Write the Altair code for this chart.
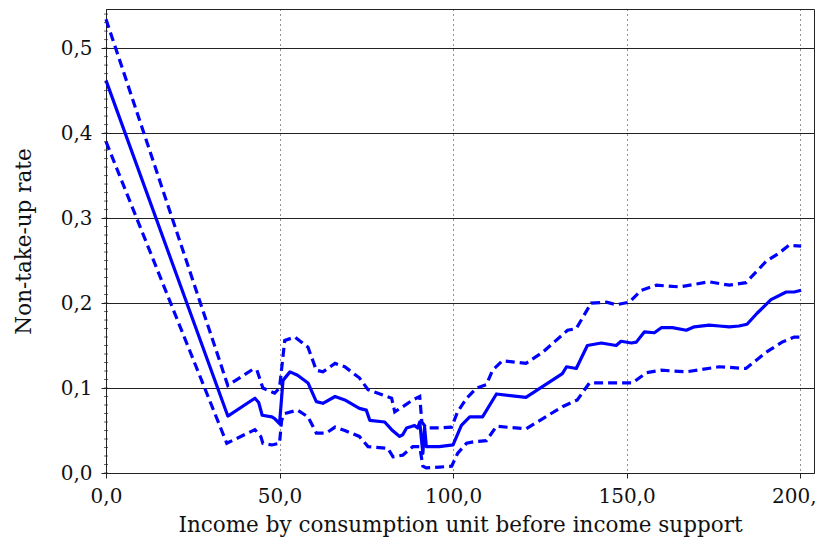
import altair as alt
import pandas as pd

# Point estimate (solid line)
main_x = [0, 35.1, 42.9, 44, 45, 47.8, 48.6, 50, 51, 53, 55.2, 58.2, 60.6, 62.5, 66, 68.8, 73, 75, 76,
          80.3, 82.3, 84.6, 85.5, 86.6, 88.9, 89.8, 90.4, 91.3, 91.8, 92.3, 96, 100, 102.4, 104.8, 108.5,
          112.5, 121, 131.5, 132.7, 135.5, 138.7, 142.7, 147, 148.4, 151.4, 152.8, 155.1, 158, 160, 163.2,
          167.2, 169.5, 173.8, 176.7, 179.6, 182.4, 184.7, 187.6, 191.6, 196, 198.3, 200.3]
main_y = [0.462, 0.067, 0.088, 0.083, 0.068, 0.066, 0.064, 0.058, 0.109, 0.119, 0.115, 0.106, 0.084, 0.082,
          0.090, 0.086, 0.076, 0.074, 0.062, 0.060, 0.051, 0.043, 0.045, 0.053, 0.056, 0.053, 0.060, 0.023,
          0.054, 0.031, 0.031, 0.033, 0.056, 0.066, 0.066, 0.093, 0.089, 0.117, 0.125, 0.123, 0.150, 0.153,
          0.150, 0.155, 0.153, 0.154, 0.166, 0.165, 0.171, 0.171, 0.168, 0.172, 0.174, 0.173, 0.172, 0.173,
          0.175, 0.188, 0.204, 0.213, 0.213, 0.215]

# Upper confidence bound (dashed)
upper_x = [0, 35.1, 42.3, 43.5, 45.2, 48.6, 50, 51.5, 54.4, 58.2, 60.6, 62.5, 66, 68.8, 73, 75.5, 82.3,
           83.2, 85.5, 88.4, 90.4, 91, 92.3, 96.1, 99.6, 101.3, 103.9, 106.8, 109.6, 111.4, 114.2, 121,
           125.8, 133, 135.5, 139.8, 144.2, 147, 150.8, 154.2, 158.6, 165.2, 173.8, 179.6, 184.4, 190.2,
           194, 196.8, 200.3]
upper_y = [0.534, 0.103, 0.122, 0.121, 0.100, 0.094, 0.100, 0.156, 0.160, 0.148, 0.121, 0.119, 0.129,
           0.125, 0.112, 0.098, 0.088, 0.072, 0.078, 0.086, 0.090, 0.060, 0.053, 0.053, 0.054, 0.072,
           0.088, 0.100, 0.104, 0.121, 0.132, 0.129, 0.142, 0.168, 0.170, 0.200, 0.201, 0.198, 0.201,
           0.215, 0.221, 0.219, 0.225, 0.221, 0.224, 0.249, 0.259, 0.268, 0.267]

# Lower confidence bound (dashed)
lower_x = [0, 34.8, 42.9, 44.6, 45.2, 47.8, 50, 50.6, 51.5, 55.2, 58.2, 60.6, 63.5, 66, 68.8, 73, 75.5,
           81.2, 82.7, 85.5, 88.4, 90.4, 91.3, 92.3, 96.1, 99.6, 101.3, 103.9, 106.2, 109.6, 112.5, 121,
           131.5, 135.8, 139.3, 147.9, 151.7, 155.7, 160, 167.2, 176.7, 184.4, 190.2, 194.8, 198.3, 200.3]
lower_y = [0.390, 0.035, 0.051, 0.043, 0.035, 0.033, 0.035, 0.062, 0.070, 0.074, 0.066, 0.047, 0.047,
           0.054, 0.050, 0.043, 0.031, 0.029, 0.019, 0.021, 0.031, 0.031, 0.008, 0.006, 0.007, 0.008,
           0.023, 0.035, 0.037, 0.038, 0.055, 0.052, 0.078, 0.086, 0.106, 0.106, 0.106, 0.118, 0.121,
           0.119, 0.125, 0.123, 0.142, 0.154, 0.160, 0.160]

x_ticks = [0, 50, 100, 150, 200]
y_ticks = [0.0, 0.1, 0.2, 0.3, 0.4, 0.5]
y_minor = [i / 100 for i in range(0, 55)]

FONT = "DejaVu Serif"
LFS = 20
TFS = 21.5
BLUE = "#0000ff"
LBL = "replace(format(datum.value, '.1f'), '.', ',')"

main_df = pd.DataFrame({"x": main_x, "y": main_y, "s": "estimate"})
band_df = pd.concat([
    pd.DataFrame({"x": upper_x, "y": upper_y, "s": "upper"}),
    pd.DataFrame({"x": lower_x, "y": lower_y, "s": "lower"}),
])
minor_df = pd.DataFrame({"y": y_minor})

xscale = alt.Scale(domain=[0, 204], nice=False, zero=False)
yscale = alt.Scale(domain=[0, 0.546], nice=False)

xaxis = alt.Axis(values=x_ticks, labelExpr=LBL, labelFlush=False,
                 title="Income by consumption unit before income support",
                 grid=True, gridDash=[1, 4], labelPadding=8, titlePadding=8,
                 labelFont=FONT, titleFont=FONT, labelFontSize=LFS, titleFontSize=TFS)
yaxis = alt.Axis(values=y_ticks, labelExpr=LBL, labelFlush=False,
                 title="Non-take-up rate",
                 grid=True, gridDash=[], labelPadding=9, titlePadding=25,
                 labelFont=FONT, titleFont=FONT, labelFontSize=LFS, titleFontSize=TFS)

base_main = alt.Chart(main_df).mark_line(color=BLUE, strokeWidth=3.2, strokeJoin="round").encode(
    x=alt.X("x:Q", scale=xscale, axis=xaxis),
    y=alt.Y("y:Q", scale=yscale, axis=yaxis),
    order="x:Q",
)
bands = alt.Chart(band_df).mark_line(color=BLUE, strokeWidth=3.2, strokeDash=[9, 5]).encode(
    x=alt.X("x:Q", scale=xscale, axis=xaxis),
    y=alt.Y("y:Q", scale=yscale, axis=yaxis),
    detail="s:N",
    order="x:Q",
)
minor = alt.Chart(minor_df).mark_tick(color="#222", thickness=1, size=4).encode(
    x=alt.value(0),
    y=alt.Y("y:Q", scale=yscale, axis=yaxis),
)

chart = alt.layer(base_main, bands, minor).properties(
    width=708, height=464,
    autosize=alt.AutoSizeParams(type="none"),
    padding={"left": 98, "top": 1, "right": 2, "bottom": 68},
    background="white",
).configure(font=FONT).configure_view(stroke="#222", strokeWidth=1).configure_axis(
    gridColor="#222", gridWidth=1, gridOpacity=1,
    tickSize=5, tickColor="#222", domainColor="#222",
    labelFont=FONT, labelFontSize=LFS, labelColor="#111",
    titleFont=FONT, titleFontSize=TFS, titleFontWeight="normal", titleColor="#111",
)

chart.save("out.html", embed_options={"renderer": "svg", "actions": False})
